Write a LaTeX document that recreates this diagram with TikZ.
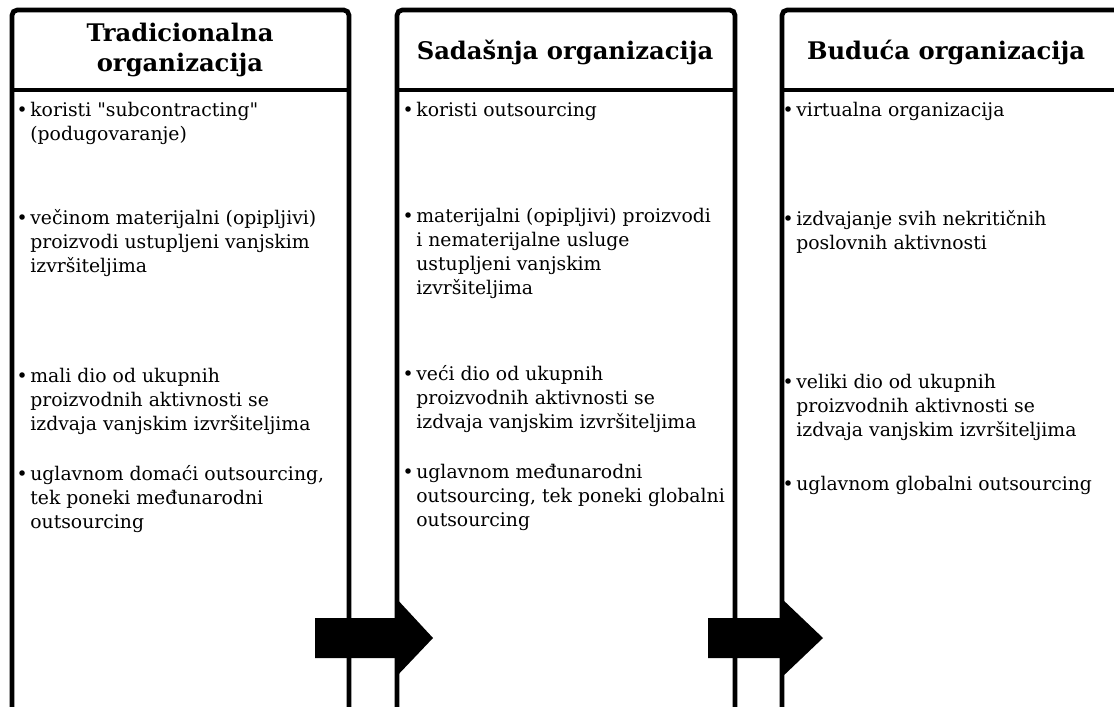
\documentclass[tikz,border=0pt]{standalone}
\usepackage{fontspec}
\setmainfont{DejaVu Serif}[Ligatures=TeXOff]
\newcommand{\bl}{\llap{\textbullet\hspace{1.5pt}}}
\tikzset{
  col/.style={line width=2.7pt, rounded corners=3pt},
  head/.style={inner sep=0pt, align=center, font=\bfseries\fontsize{13.8}{17.5}\selectfont},
  item/.style={anchor=north west, inner sep=0pt, align=left, font=\fontsize{10.7}{13.6}\selectfont}
}
\begin{document}
\begin{tikzpicture}[x=0.02cm,y=-0.02cm]
\useasboundingbox (0,0) rectangle (1114,706);

\draw[col] (12,720) -- (12,10) -- (349,10) -- (349,720);
\draw[col] (12,90) -- (349,90);
\draw[col] (397,720) -- (397,10) -- (735,10) -- (735,720);
\draw[col] (397,90) -- (735,90);
\draw[col] (782,720) -- (782,10) -- (1130,10) -- (1130,720);
\draw[col] (782,90) -- (1130,90);

\node[head] (h1) at (180,50) {Tradicionalna\\organizacija};
\node[head] (h2) at (565,52) {Sadašnja organizacija};
\node[head] (h3) at (946,52) {Buduća organizacija};

\node[item] (t1a) at (30,102) {\bl koristi "subcontracting"\\(podugovaranje)};
\node[item] (t1b) at (30,209) {\bl večinom materijalni (opipljivi)\\proizvodi ustupljeni vanjskim\\izvršiteljima};
\node[item] (t1c) at (30,368) {\bl mali dio od ukupnih\\proizvodnih aktivnosti se\\izdvaja vanjskim izvršiteljima};
\node[item] (t1d) at (30,465) {\bl uglavnom domaći outsourcing,\\tek poneki međunarodni\\outsourcing};

\node[item] (t2a) at (416,102) {\bl koristi outsourcing};
\node[item] (t2b) at (416,208) {\bl materijalni (opipljivi) proizvodi\\i nematerijalne usluge\\ustupljeni vanjskim\\izvršiteljima};
\node[item] (t2c) at (416,365) {\bl veći dio od ukupnih\\proizvodnih aktivnosti se\\izdvaja vanjskim izvršiteljima};
\node[item] (t2d) at (416,464) {\bl uglavnom međunarodni\\outsourcing, tek poneki globalni\\outsourcing};

\node[item] (t3a) at (796,102) {\bl virtualna organizacija};
\node[item] (t3b) at (796,210) {\bl izdvajanje svih nekritičnih\\poslovnih aktivnosti};
\node[item] (t3c) at (796,374) {\bl veliki dio od ukupnih\\proizvodnih aktivnosti se\\izdvaja vanjskim izvršiteljima};
\node[item] (t3d) at (796,476) {\bl uglavnom globalni outsourcing};

\fill (315,618) -- (395,618) -- (395,597) -- (433,638) -- (395,678) -- (395,658) -- (315,658) -- cycle;
\fill (708,618) -- (781,618) -- (781,598) -- (823,638) -- (781,678) -- (781,658) -- (708,658) -- cycle;
\end{tikzpicture}
\end{document}
